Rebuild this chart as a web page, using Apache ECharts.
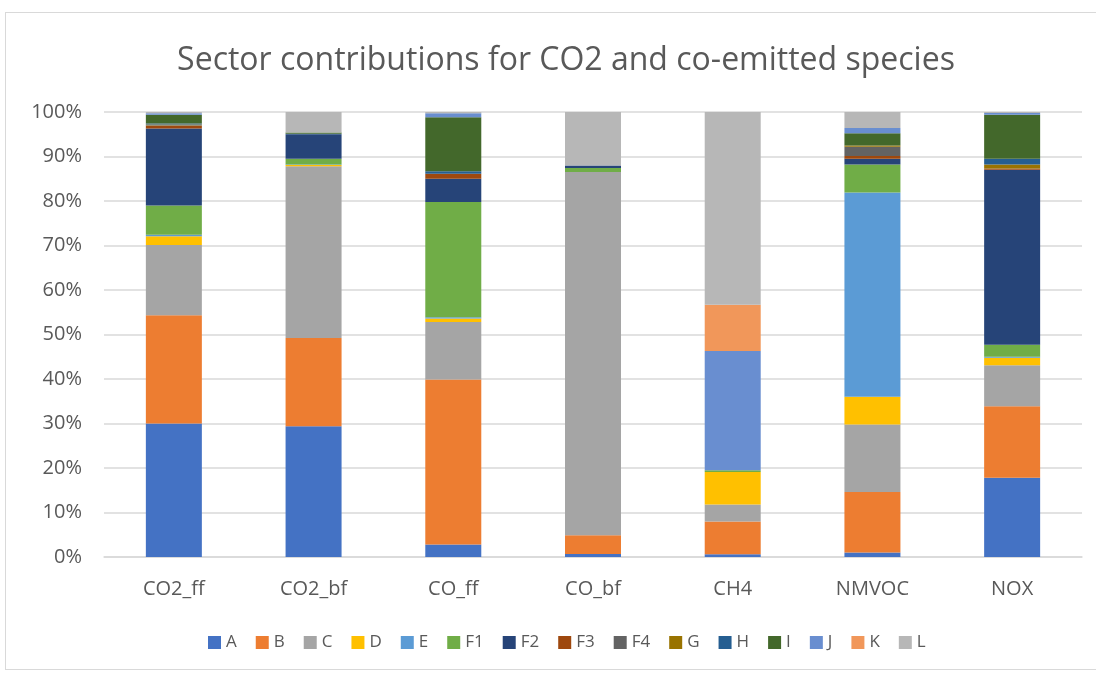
<!DOCTYPE html>
<html>
<head>
<meta charset="utf-8">
<script src="https://cdn.jsdelivr.net/npm/echarts@6/dist/echarts.min.js"></script>
<style>
  html, body { margin: 0; padding: 0; background: #fff; }
  #frame { position: absolute; left: 5px; top: 12px; width: 1100px; height: 658px; border: 1px solid #d9d9d9; box-sizing: border-box; }
  #chart { position: absolute; left: 0; top: 0; width: 1096px; height: 673px; }
</style>
</head>
<body>
<div id="frame"></div>
<div id="chart"></div>
<script>
// categories (species)
const species = ['CO2_ff', 'CO2_bf', 'CO_ff', 'CO_bf', 'CH4', 'NMVOC', 'NOX'];
const sectors = ['A', 'B', 'C', 'D', 'E', 'F1', 'F2', 'F3', 'F4', 'G', 'H', 'I', 'J', 'K', 'L'];
const colors = ['#4472C4', '#ED7D31', '#A5A5A5', '#FFC000', '#5B9BD5', '#70AD47', '#264478',
  '#9E480E', '#636363', '#997300', '#255E91', '#43682B', '#698ED0', '#F1975A', '#B7B7B7'];

// share in % per sector, order follows species
const A  = [30.0, 29.4, 2.8, 0.7, 0.6, 1.0, 17.8];
const B  = [24.3, 19.8, 37.1, 4.2, 7.4, 13.6, 16.1];
const C  = [15.8, 38.6, 12.9, 81.6, 3.8, 15.2, 9.2];
const D  = [2.0, 0.3, 0.8, 0.0, 7.3, 6.2, 1.7];
const E  = [0.3, 0.1, 0.3, 0.0, 0.0, 45.9, 0.2];
const F1 = [6.6, 1.3, 25.9, 0.9, 0.4, 6.3, 2.7];
const F2 = [17.3, 5.5, 5.2, 0.6, 0.0, 1.3, 39.3];
const F3 = [0.6, 0.0, 1.1, 0.0, 0.0, 0.6, 0.3];
const F4 = [0.1, 0.0, 0.0, 0.0, 0.0, 2.1, 0.0];
const G  = [0.2, 0.0, 0.0, 0.0, 0.0, 0.3, 0.9];
const H  = [0.2, 0.1, 0.6, 0.0, 0.0, 0.0, 1.3];
const I  = [2.0, 0.3, 12.1, 0.0, 0.0, 2.7, 9.9];
const J  = [0.3, 0.0, 0.9, 0.0, 26.8, 1.2, 0.4];
const K  = [0.0, 0.0, 0.0, 0.0, 10.4, 0.0, 0.0];
const L  = [0.3, 4.6, 0.3, 12.0, 43.3, 3.6, 0.2];
const shares = [A, B, C, D, E, F1, F2, F3, F4, G, H, I, J, K, L];

const yTicks = [0, 10, 20, 30, 40, 50, 60, 70, 80, 90, 100];

const chart = echarts.init(document.getElementById('chart'));
const font = 'Open Sans, Noto Sans, sans-serif';

chart.setOption({
  animation: false,
  color: colors,
  title: {
    text: 'Sector contributions for CO2 and co-emitted species',
    left: 561,
    textAlign: 'center',
    top: 40,
    textStyle: { fontFamily: font, fontSize: 32, fontWeight: 'normal', color: '#595959' },
  },
  legend: {
    bottom: 17,
    left: 203,
    itemWidth: 13,
    itemHeight: 13,
    itemGap: 19,
    icon: 'rect',
    textStyle: { fontFamily: font, fontSize: 17, color: '#595959' },
    data: sectors,
  },
  grid: { left: 104, right: 14, top: 112, bottom: 116 },
  xAxis: {
    type: 'category',
    data: species,
    axisLine: { lineStyle: { color: '#d9d9d9', width: 1.5 } },
    axisTick: { show: false },
    axisLabel: { fontFamily: font, fontSize: 20, color: '#595959', margin: 22 },
  },
  yAxis: {
    type: 'value',
    min: yTicks[0],
    max: yTicks[yTicks.length - 1],
    interval: 10,
    axisLine: { show: false },
    axisTick: { show: false },
    splitLine: { lineStyle: { color: '#d9d9d9', width: 1.5 } },
    axisLabel: { fontFamily: font, fontSize: 20, color: '#595959', margin: 22, formatter: '{value}%' },
  },
  series: sectors.map((name, i) => ({
    name: name,
    type: 'bar',
    stack: 'total',
    barWidth: 56,
    data: shares[i],
  })),
});
</script>
</body>
</html>
